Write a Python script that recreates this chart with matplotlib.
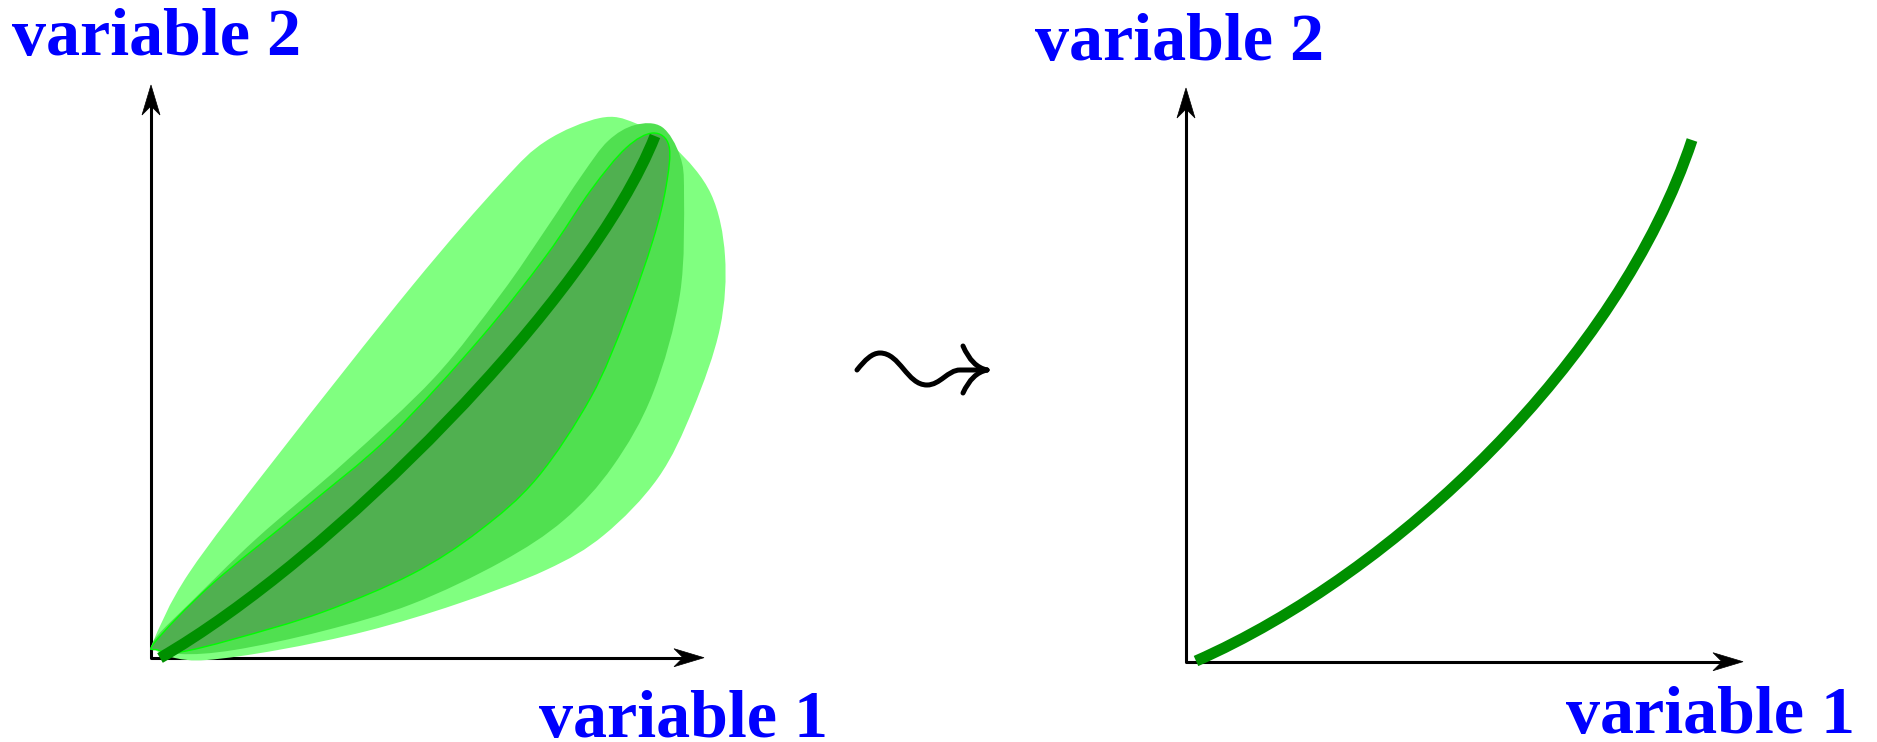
import numpy as np
import matplotlib.pyplot as plt
from matplotlib.path import Path
from matplotlib.patches import PathPatch, Polygon

W, H = 1877, 742

# axis corners and arrow tips (x, y in pixels, y pointing down)
left_origin = (151, 657.7)
left_x_tip = (704, 657.7)
left_y_tip = (151, 85)
right_origin = (1186, 661.7)
right_x_tip = (1743, 661.7)
right_y_tip = (1186, 88)

# outer spread of the sample curves
outer_x = [153, 189, 278, 412, 501, 546, 600, 635, 675, 711, 725, 720, 693, 658,
           604, 546, 457, 367, 278, 207, 175, 155]
outer_y = [642, 573, 455, 286, 183, 141, 118, 123, 148, 194, 256, 328, 409, 478,
           535, 570, 604, 631, 650, 660, 658, 650]

# middle spread
middle_x = [158, 189, 256, 345, 434, 501, 546, 582, 608, 635, 662, 680, 684, 680,
            653, 613, 564, 501, 412, 323, 234, 180, 155]
middle_y = [635, 604, 539, 462, 378, 294, 229, 175, 141, 125, 127, 156, 194, 294,
            393, 466, 520, 562, 604, 631, 650, 654, 646]

# inner spread
inner_x = [155, 211, 300, 390, 479, 546, 591, 626, 653, 669, 666, 653, 626, 591,
           537, 479, 412, 323, 234, 180, 158]
inner_y = [642, 585, 512, 436, 340, 256, 190, 148, 133, 146, 187, 240, 317, 397,
           478, 531, 574, 612, 639, 652, 650]

# mean curve (cubic Bezier control points)
mean_left_x = [160, 330, 590, 655]
mean_left_y = [658, 560, 300, 136]
mean_right_x = [1196, 1396, 1619, 1692]
mean_right_y = [661, 573, 360, 140]

# squiggly "leads to" arrow
squiggle_x = [857, 865, 872, 880, 900, 907, 927, 940, 948, 960, 987]
squiggle_y = [370, 360, 353, 353, 353, 385, 385, 385, 370, 370, 370]
barb_top_x = [963, 972, 987]
barb_top_y = [346, 367, 370]
barb_bot_x = [963, 972, 987]
barb_bot_y = [393, 373, 370]

labels = ["variable 1", "variable 2"]

col_outer = "#80ff80"
col_middle = "#50e050"
col_inner = "#50b050"
col_edge = "#00ff00"
col_mean = "#009000"
col_text = "#0000ff"


def smooth_closed(xs, ys):
    pts = np.column_stack([xs, ys]).astype(float)
    n = len(pts)
    verts = [pts[0]]
    codes = [Path.MOVETO]
    for i in range(n):
        p0, p1 = pts[i - 1], pts[i]
        p2, p3 = pts[(i + 1) % n], pts[(i + 2) % n]
        verts += [p1 + (p2 - p0) / 6, p2 - (p3 - p1) / 6, p2]
        codes += [Path.CURVE4] * 3
    return Path(verts, codes)


def bezier(xs, ys):
    return Path(np.column_stack([xs, ys]),
                [Path.MOVETO, Path.CURVE4, Path.CURVE4, Path.CURVE4])


def arrow_head(ax, tip, direction):
    tx, ty = tip
    L, hw, notch = 30, 9, 21
    if direction == "right":
        pts = [(tx, ty), (tx - L, ty - hw), (tx - notch, ty), (tx - L, ty + hw)]
    else:
        pts = [(tx, ty), (tx - hw, ty + L), (tx, ty + notch), (tx + hw, ty + L)]
    ax.add_patch(Polygon(pts, closed=True, fc="black", ec="black", lw=0.5, zorder=2))


def draw_axes(ax, origin, x_tip, y_tip):
    ax.plot([y_tip[0], origin[0], x_tip[0] - 20], [y_tip[1] + 20, origin[1], x_tip[1]],
            color="black", lw=2.2, solid_joinstyle="round", zorder=1)
    arrow_head(ax, x_tip, "right")
    arrow_head(ax, y_tip, "up")


fig = plt.figure(figsize=(W / 100, H / 100), dpi=100)
ax = fig.add_axes([0, 0, 1, 1])
ax.set_xlim(0, W)
ax.set_ylim(H, 0)
ax.axis("off")

draw_axes(ax, left_origin, left_x_tip, left_y_tip)
draw_axes(ax, right_origin, right_x_tip, right_y_tip)

# left panel: nested spreads and the mean curve
ax.add_patch(PathPatch(smooth_closed(outer_x, outer_y), fc=col_outer, ec="none", zorder=3))
ax.add_patch(PathPatch(smooth_closed(middle_x, middle_y), fc=col_middle, ec="none", zorder=4))
ax.add_patch(PathPatch(smooth_closed(inner_x, inner_y), fc=col_inner, ec=col_edge,
                       lw=1.0, zorder=5))
ax.add_patch(PathPatch(bezier(mean_left_x, mean_left_y), fc="none", ec=col_mean,
                       lw=8, capstyle="butt", zorder=6))

# right panel: the mean curve only
ax.add_patch(PathPatch(bezier(mean_right_x, mean_right_y), fc="none", ec=col_mean,
                       lw=8, capstyle="butt", zorder=6))

# squiggly arrow between the panels
sq_codes = [Path.MOVETO] + [Path.CURVE4] * 9 + [Path.LINETO]
sq = Path(np.column_stack([squiggle_x, squiggle_y]), sq_codes)
ax.add_patch(PathPatch(sq, fc="none", ec="black", lw=3.6, capstyle="round", zorder=6))
for bx, by in [(barb_top_x, barb_top_y), (barb_bot_x, barb_bot_y)]:
    barb = Path(np.column_stack([bx, by]), [Path.MOVETO, Path.CURVE3, Path.CURVE3])
    ax.add_patch(PathPatch(barb, fc="none", ec="black", lw=3.6, capstyle="round", zorder=6))

font = dict(family="Liberation Serif", weight="bold", size=49, color=col_text)
ax.text(684, 737, labels[0], ha="center", va="baseline", **font)
ax.text(1711, 733, labels[0], ha="center", va="baseline", **font)
ax.text(157, 55, labels[1], ha="center", va="baseline", **font)
ax.text(1180, 60, labels[1], ha="center", va="baseline", **font)

fig.savefig("out.png", dpi=100)
